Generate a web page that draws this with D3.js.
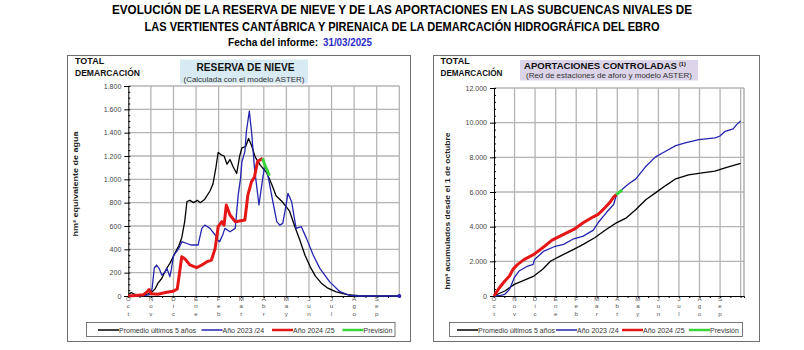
<!DOCTYPE html>
<html><head><meta charset="utf-8">
<script src="https://cdn.jsdelivr.net/npm/d3@7"></script>
<style>
body{margin:0;background:#fff;}
svg{display:block;font-family:"Liberation Sans",Arial,sans-serif;}
</style></head><body>
<svg id="chart" width="804" height="350"></svg>
<script>
// month initials shown stacked under each gridline (hydrological year, Oct -> Sep)
var monthLabels=["Oct","Nov","Dic","Ene","Feb","Mar","Abr","May","Jun","Jul","Ago","Sep"];
var legendNames=["Promedio últimos 5 años","Año 2023 /24","Año 2024 /25","Previsión"];
var seriesColors=["#000000","#2424b0","#e41616","#3ad33a"];

// snow reserve, hm3 — [day since 1 Oct, value]
var nievePromedio=[[0,10],[4,30],[8,15],[15,8],[25,15],[31,30],[36,60],[40,110],[45,150],[48,190],[52,240],[56,280],[60,330],[64,380],[68,430],[72,500],[76,640],[79,810],[83,820],[88,800],[93,820],[97,800],[103,830],[107,870],[110,900],[114,960],[118,1100],[121,1230],[125,1210],[129,1200],[133,1130],[137,1170],[141,1110],[146,1050],[150,1200],[153,1270],[158,1280],[162,1350],[166,1290],[171,1190],[178,1120],[186,1060],[193,960],[199,860],[207,810],[212,770],[217,730],[224,600],[231,480],[238,350],[245,250],[252,170],[260,110],[268,70],[280,35],[295,12],[310,3],[330,0],[365,0]];
var nieve2324=[[0,0],[15,0],[28,10],[32,60],[35,240],[38,265],[42,230],[45,180],[49,200],[52,237],[56,165],[58,230],[61,350],[65,380],[69,420],[72,466],[79,450],[85,437],[94,437],[99,580],[103,608],[110,580],[117,523],[120,480],[123,466],[127,520],[130,580],[137,551],[144,580],[148,865],[151,1000],[153,1150],[157,1237],[159,1408],[163,1585],[166,1408],[170,1094],[176,780],[181,1008],[184,1123],[188,1037],[193,865],[200,637],[204,608],[208,623],[212,760],[215,880],[220,808],[226,580],[233,594],[240,494],[249,351],[258,237],[271,123],[285,37],[298,5],[310,0],[365,0]];
var nieve2425=[[0,0],[10,5],[20,10],[26,40],[28,55],[31,20],[40,15],[50,30],[60,40],[66,60],[69,200],[72,337],[76,320],[83,266],[92,243],[99,266],[106,294],[112,308],[117,408],[121,594],[126,637],[129,608],[132,780],[137,694],[144,637],[150,643],[157,651],[161,865],[166,980],[170,1023],[174,1151],[177,1165],[181,1180]];
var nievePrevision=[[181,1180],[184,1120],[187,1080],[190,1030]];

// controlled runoff, hm3 accumulated since 1 Oct
var aportPromedio=[[0,0],[1,30],[16,290],[30,670],[45,920],[59,1150],[72,1540],[84,2020],[98,2300],[118,2690],[132,2980],[149,3360],[166,3840],[181,4220],[196,4510],[210,4990],[225,5570],[239,5950],[254,6370],[269,6760],[288,6990],[308,7100],[327,7200],[342,7390],[365,7650]];
var aport2324=[[0,0],[10,40],[16,100],[23,384],[30,1056],[37,1440],[50,1728],[58,1824],[60,2112],[74,2592],[89,2842],[103,2976],[118,3302],[132,3456],[147,3802],[154,4224],[166,4800],[177,5280],[181,5800],[188,6106],[200,6490],[210,6758],[225,7488],[239,8026],[254,8352],[269,8678],[283,8832],[303,9024],[327,9120],[334,9216],[342,9504],[354,9638],[359,9888],[365,10100]];
var aport2425=[[0,0],[8,480],[16,864],[23,1152],[28,1536],[35,1824],[45,2112],[59,2400],[72,2784],[86,3226],[103,3552],[118,3840],[132,4224],[147,4570],[154,4704],[164,5088],[171,5376],[177,5700],[181,5850]];
var aportPrevision=[[181,5850],[185,5980],[190,6120]];

var fmt=d3.formatLocale({decimal:",",thousands:".",grouping:[3],currency:["","€"]}).format(",d");
var svg=d3.select("#chart");
var narrow="'Liberation Sans Narrow','Arial Narrow',sans-serif";

// page title
svg.append("text").attr("x",402).attr("y",14).attr("text-anchor","middle")
    .style("font-family",narrow).style("font-weight","bold").style("font-size","12px")
    .attr("textLength",580).attr("lengthAdjust","spacingAndGlyphs")
    .text("EVOLUCIÓN  DE  LA  RESERVA  DE  NIEVE  Y  DE  LAS  APORTACIONES  EN  LAS  SUBCUENCAS  NIVALES  DE");
svg.append("text").attr("x",402).attr("y",31).attr("text-anchor","middle")
    .style("font-family",narrow).style("font-weight","bold").style("font-size","12px")
    .attr("textLength",515).attr("lengthAdjust","spacingAndGlyphs")
    .text("LAS VERTIENTES CANTÁBRICA Y PIRENAICA DE LA  DEMARCACIÓN HIDROGRÁFICA DEL EBRO");
svg.append("text").attr("x",228).attr("y",45.5)
    .style("font-family",narrow).style("font-weight","bold").style("font-size","10px")
    .attr("textLength",90).attr("lengthAdjust","spacingAndGlyphs").text("Fecha del informe:");
svg.append("text").attr("x",323).attr("y",45.5).attr("fill","#2b2bc8")
    .style("font-family",narrow).style("font-weight","bold").style("font-size","10px")
    .attr("textLength",49).attr("lengthAdjust","spacingAndGlyphs").text("31/03/2025");

function drawPanel(p){
    var g=svg.append("g");
    g.append("rect").attr("x",p.frame[0]).attr("y",55.5).attr("width",p.frame[1]-p.frame[0]).attr("height",286)
        .attr("fill","none").attr("stroke","#6e6e6e").attr("stroke-width",1);

    g.append("text").attr("x",p.hx).attr("y",63.5).style("font-weight","bold").style("font-size","9px").attr("fill","#111").text("TOTAL");
    g.append("text").attr("x",p.hx).attr("y",76).style("font-weight","bold").style("font-size","9px").attr("fill","#111")
        .attr("textLength",p.hw).attr("lengthAdjust","spacingAndGlyphs").text("DEMARCACIÓN");

    // header box
    g.append("rect").attr("x",p.box[0]).attr("y",p.box[1]).attr("width",p.box[2]).attr("height",p.box[3]).attr("fill",p.boxFill);
    g.append("text").attr("x",p.tx).attr("y",p.ty).style("font-weight","bold").style("font-size",p.tf+"px").attr("fill","#111")
        .attr("text-anchor",p.sup?"start":"middle")
        .attr("textLength",p.tw).attr("lengthAdjust","spacingAndGlyphs").text(p.title);
    if(p.sup) g.append("text").attr("x",p.tx+p.tw+2).attr("y",p.ty-3.5).style("font-weight","bold").style("font-size","5.5px")
        .attr("fill","#111").text(p.sup);
    g.append("text").attr("x",p.sx).attr("y",p.sy).attr("text-anchor","middle").style("font-size","7px").attr("fill","#333")
        .attr("textLength",p.sw).attr("lengthAdjust","spacingAndGlyphs").text(p.subtitle);

    var x=d3.scaleLinear().domain([0,p.xmax]).range(p.xr);
    var y=d3.scaleLinear().domain([0,p.ymax]).range(p.yr);
    var monthDays=d3.range(13).map(function(i){return i*365/12;});

    // grid
    g.append("g").selectAll("line").data(d3.range(p.step,p.ymax+1,p.step)).enter().append("line")
        .attr("x1",p.xr[0]).attr("x2",p.xr[1]).attr("y1",function(d){return y(d);}).attr("y2",function(d){return y(d);})
        .attr("stroke","#b4b4b4").attr("stroke-width",1.3);
    g.append("g").selectAll("line").data(monthDays.slice(1)).enter().append("line")
        .attr("x1",function(d){return x(d);}).attr("x2",function(d){return x(d);}).attr("y1",p.yr[0]).attr("y2",p.yr[1])
        .attr("stroke","#b4b4b4").attr("stroke-width",1.3);
    if(p.xmax>365) g.append("line").attr("x1",p.xr[1]).attr("x2",p.xr[1]).attr("y1",p.yr[0]).attr("y2",p.yr[1]).attr("stroke","#888");

    // y axis
    var ya=g.append("g").attr("transform","translate("+p.xr[0]+",0)")
        .call(d3.axisLeft(y).tickValues(d3.range(0,p.ymax+1,p.step)).tickSize(4).tickPadding(3).tickFormat(fmt));
    ya.select(".domain").attr("stroke","#000");
    ya.selectAll(".tick line").attr("stroke","#000");
    ya.selectAll("text").style("font-size","7px").attr("fill","#444").style("font-family","'Liberation Sans',Arial,sans-serif");
    g.append("g").attr("transform","translate("+p.xr[0]+",0)")
        .call(d3.axisRight(y).tickValues(d3.range(0,p.ymax+1,p.minor)).tickSize(2).tickFormat(""))
        .call(function(a){a.select(".domain").remove();a.selectAll("line").attr("stroke","#000");});

    // x axis with stacked month letters
    var xa=g.append("g").attr("transform","translate(0,"+p.yr[0]+")")
        .call(d3.axisBottom(x).tickValues(d3.range(0,p.xmax,365/24)).tickSize(2).tickFormat(""));
    xa.select(".domain").attr("stroke","#000");
    xa.selectAll("line").attr("stroke","#000");
    monthLabels.forEach(function(m,i){
        m.split("").forEach(function(ch,j){
            g.append("text").attr("x",x(monthDays[i])).attr("y",p.yr[0]+4.8+j*7.4).attr("text-anchor","middle")
                .style("font-size","6.2px").attr("fill","#555").text(j?ch.toLowerCase():ch);
        });
    });

    // y title
    g.append("text").attr("transform","translate("+p.yx+","+p.yc+") rotate(-90)").attr("text-anchor","middle")
        .style("font-weight","bold").style("font-size","8px").attr("fill","#222")
        .attr("textLength",p.yw).attr("lengthAdjust","spacingAndGlyphs").text(p.ytitle);

    // series
    var line=d3.line().x(function(d){return x(d[0]);}).y(function(d){return y(d[1]);});
    var widths=[1.3,1.3,3,3];
    p.series.forEach(function(s,i){
        g.append("path").datum(s).attr("d",line).attr("fill","none").attr("stroke",seriesColors[i])
            .attr("stroke-width",widths[i]).attr("stroke-linejoin","round");
    });
    if(p.endDot){
        var last=p.series[1][p.series[1].length-1];
        g.append("circle").attr("cx",x(last[0])).attr("cy",y(last[1])).attr("r",2).attr("fill",seriesColors[1]);
    }

    // legend
    var lg=g.append("g");
    lg.append("rect").attr("x",p.leg[0]).attr("y",322.5).attr("width",p.leg[1]-p.leg[0]).attr("height",14)
        .attr("fill","#fff").attr("stroke","#555").attr("stroke-width",0.8);
    legendNames.forEach(function(n,i){
        var lx=p.legX[i];
        lg.append("line").attr("x1",lx).attr("x2",lx+p.legL).attr("y1",330).attr("y2",330)
            .attr("stroke",seriesColors[i]).attr("stroke-width",i>1?2.5:1.5);
        lg.append("text").attr("x",lx+p.legL).attr("y",332.5).style("font-size","7px").attr("fill","#333").text(n);
    });
}

drawPanel({
    frame:[67.5,410.5], hx:75, hw:65,
    box:[180,59.5,128,24], boxFill:"#d8ebf2", title:"RESERVA DE NIEVE", tx:245.5, ty:70.5, tw:98, tf:10,
    subtitle:"(Calculada con el modelo ASTER)", sx:244, sy:81.5, sw:121,
    xmax:365, xr:[128.3,399.3], ymax:1800, yr:[296,86], step:200, minor:50,
    yx:78, yc:184, yw:105, ytitle:"hm³ equivalente de agua",
    series:[nievePromedio,nieve2324,nieve2425,nievePrevision], endDot:true,
    leg:[86.5,395], legX:[98,201.5,272,342.5], legL:21
});
drawPanel({
    frame:[433.5,759.5], hx:440.5, hw:62,
    box:[520,60,178,20.5], boxFill:"#dcd5e9", title:"APORTACIONES CONTROLADAS", sup:"(1)", tx:524, ty:69, tw:153, tf:9.4,
    subtitle:"(Red de estaciones de aforo y modelo ASTER)", sx:609, sy:77.5, sw:166,
    xmax:370, xr:[494,744], ymax:12000, yr:[296,88], step:2000, minor:400,
    yx:450, yc:211, yw:157, ytitle:"hm³ acumulados desde el 1 de octubre",
    series:[aportPromedio,aport2324,aport2425,aportPrevision], endDot:false,
    leg:[449.5,742.5], legX:[457,556,622,689], legL:21
});
</script>
</body></html>
